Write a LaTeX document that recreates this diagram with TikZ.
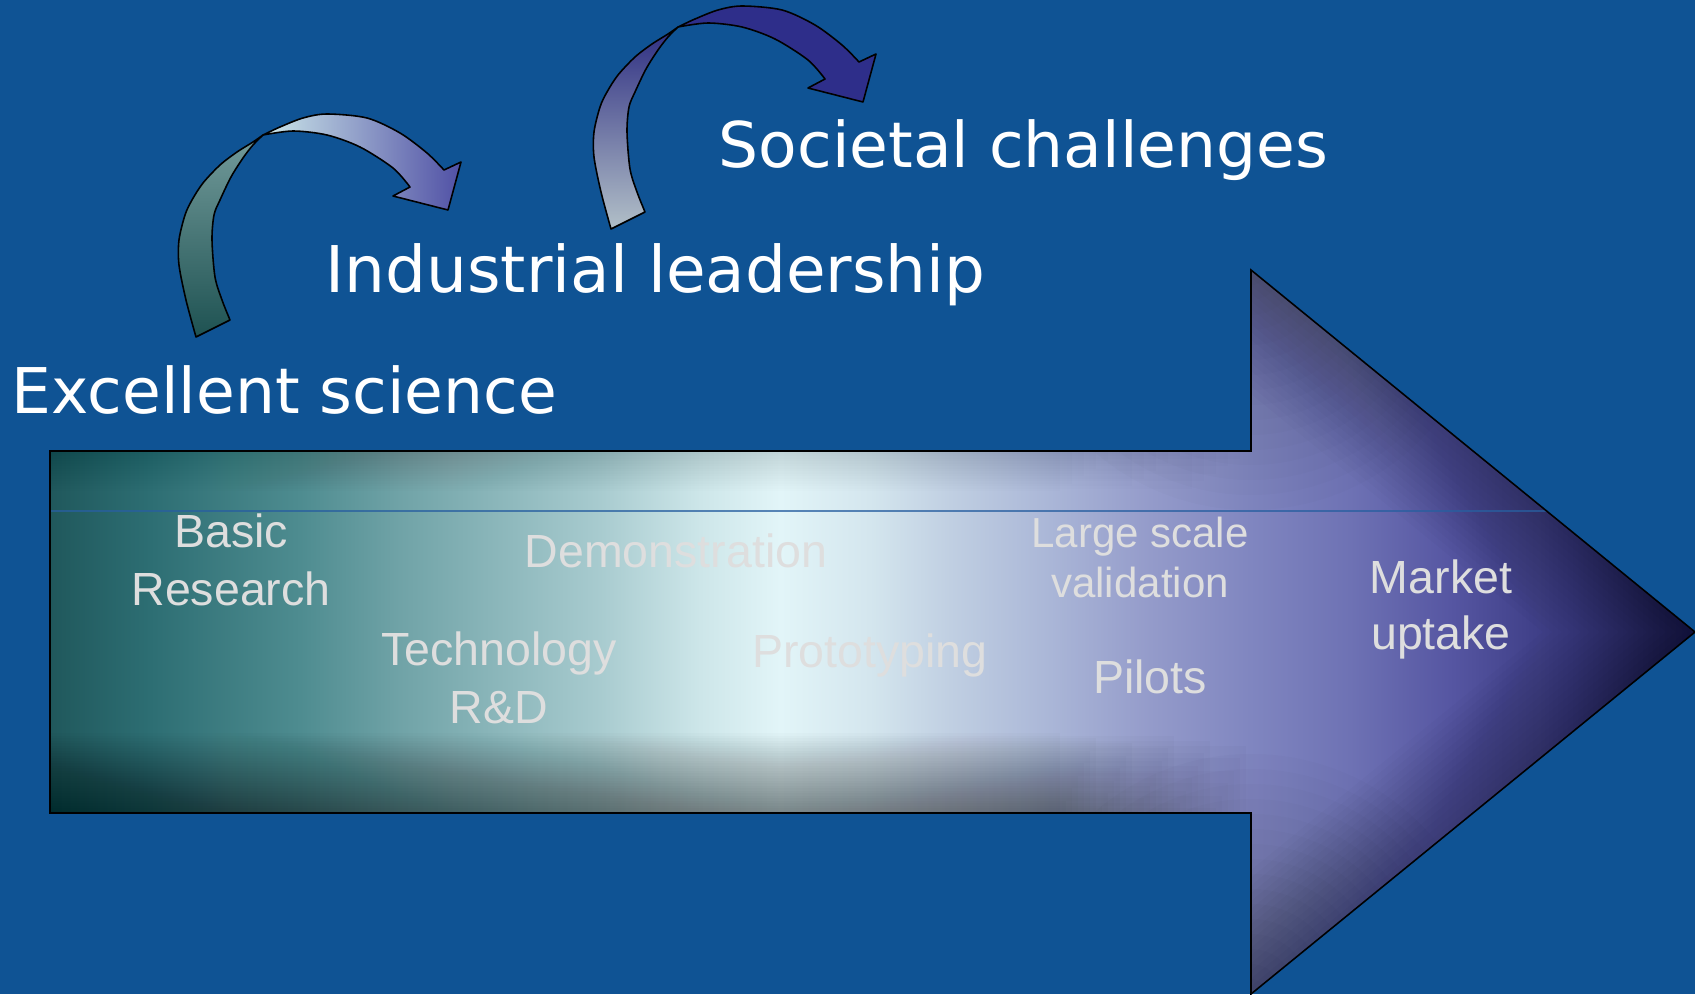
\documentclass[tikz,border=0pt]{standalone}
\usepackage{fontspec}
\newfontfamily\titlefont{DejaVu Sans}
\newfontfamily\labelfont{Liberation Sans}

% page and text colours
\definecolor{bgblue}{RGB}{15,83,148}
\definecolor{labgrey}{RGB}{222,222,222}
\definecolor{rowline}{RGB}{40,95,160}

% stops of the left-to-right fill of the large arrow
\definecolor{sa}{RGB}{32,88,92}
\definecolor{sb}{RGB}{45,110,115}
\definecolor{sc}{RGB}{78,140,144}
\definecolor{sd}{RGB}{112,163,167}
\definecolor{se}{RGB}{168,203,207}
\definecolor{sf}{RGB}{205,230,233}
\definecolor{sg}{RGB}{226,245,248}
\definecolor{sh}{RGB}{212,230,238}
\definecolor{si}{RGB}{192,207,226}
\definecolor{sj}{RGB}{170,182,215}
\definecolor{sk}{RGB}{148,155,202}
\definecolor{sl}{RGB}{128,134,192}
\definecolor{sm}{RGB}{110,114,180}
\definecolor{sn}{RGB}{86,86,162}
\definecolor{so}{RGB}{60,60,132}
\definecolor{sp}{RGB}{40,40,98}
\definecolor{sq}{RGB}{32,32,86}

\pgfdeclarehorizontalshading{flowshade}{100bp}{%
  color(0bp)=(sa); color(25bp)=(sa); color(28.04bp)=(sb); color(32.6bp)=(sc);
  color(35.64bp)=(sd); color(41.72bp)=(se); color(44.76bp)=(sf); color(47.19bp)=(sg);
  color(49.92bp)=(sh); color(52.36bp)=(si); color(55.4bp)=(sj); color(58.43bp)=(sk);
  color(61.47bp)=(sl); color(64.51bp)=(sm); color(67.55bp)=(sn); color(70.59bp)=(so);
  color(73.63bp)=(sp); color(75bp)=(sq); color(100bp)=(sq)}

% arrow colours
\definecolor{aonebot}{RGB}{30,82,82}
\definecolor{aonetop}{RGB}{115,155,155}
\definecolor{aoneleft}{RGB}{205,232,234}
\definecolor{aonemid}{RGB}{232,247,247}
\definecolor{aoneright}{RGB}{80,80,165}
\definecolor{atwobot}{RGB}{178,192,200}
\definecolor{atwotop}{RGB}{45,45,130}
\definecolor{atwofront}{RGB}{46,46,138}

% curved ribbon arrow: #1 shift, #2/#3 back part bottom/top, #4/#5/#6 front part left/middle/right
\newcommand\bendarrow[6]{%
  \begin{scope}[shift={#1}]
    \shade[bottom color=#2, top color=#3, draw=black, line width=0.45pt, line join=round]
      plot[smooth, tension=0.5] coordinates {(196,337) (186,300) (179,265) (179,240) (185,215)
        (192,200) (203,183) (220,165) (237,152) (253,142) (263,135)}
      -- plot[smooth, tension=0.5] coordinates {(263,135) (253,145) (243,158) (231,177)
        (220,200) (214,215) (212,240) (215,277) (222,300) (230,320)}
      -- cycle;
    \shade[left color=#4, middle color=#5, right color=#6, draw=black, line width=0.45pt, line join=round]
      plot[smooth, tension=0.5] coordinates {(263,135) (280,127) (303,118) (327,114) (367,118)
        (400,133) (427,153) (444,170)}
      -- (461,162) -- (448,210) -- (393,196) -- (410,187)
      -- plot[smooth, tension=0.5] coordinates {(410,187) (393,168) (360,147) (327,135)
        (293,131) (263,135)}
      -- cycle;
  \end{scope}}

\begin{document}
\begin{tikzpicture}[x=0.01cm, y=-0.01cm,
  title/.style={font=\titlefont\fontsize{17.93pt}{21pt}\selectfont, text=white,
    inner sep=0pt, anchor=base west},
  lab/.style={font=\labelfont\fontsize{13.23pt}{16pt}\selectfont, text=labgrey,
    inner sep=0pt, anchor=base},
  labsmall/.style={lab, font=\labelfont\fontsize{11.95pt}{14pt}\selectfont},
  bigoutline/.style={draw=black, line width=0.45pt, line join=miter}]

% page
\fill[bgblue] (0,0) rectangle (1695,994);
\useasboundingbox (0,0) rectangle (1695,994);

% large arrow fill
\def\bigarrow{(50,451) -- (1251,451) -- (1251,270) -- (1695,632) -- (1251,994) -- (1251,813) -- (50,813) -- cycle}
\shade[shading=flowshade] \bigarrow;

% darker rims inside the large arrow (many faint layers)
\begin{scope}
  \clip \bigarrow;
  % lower rim of the shaft; the layers stop at scattered points before the head
  \foreach \i in {1,...,32} {
    \pgfmathtruncatemacro\p{mod(\i*13,32)}
    \fill[black, opacity=0.0151] (50,{813-2.5*\i}) rectangle ({1060+6*\p},813);
  }
  % upper rim of the shaft
  \foreach \i in {1,...,16} {
    \pgfmathtruncatemacro\p{mod(\i*5,16)}
    \fill[black, opacity=0.009] (50,451) rectangle ({1060+12*\p},{451+2.5*\i});
  }
  % rims along the slanted sides of the head
  \foreach \h in {6,12,...,96} {
    \pgfmathsetmacro\lw{\h*0.569}
    \draw[black, opacity=0.016, line width=\lw pt, line join=round]
      (1251,270) -- (1695,632) -- (1251,994);
  }
  % shadows in the two back corners of the head
  \foreach \r in {15,30,...,240} {
    \fill[black, opacity=0.011] (1251,270) circle[radius=\r];
    \fill[black, opacity=0.014] (1251,994) circle[radius=\r];
  }
\end{scope}

% thin rule across the arrow
\coordinate (rowL) at (50,511);
\coordinate (rowR) at (1547,511);
\draw[rowline, opacity=0.75, line width=0.3pt] (rowL) -- (rowR);

\draw[bigoutline] \bigarrow;

% curved arrows
\bendarrow{(0,0)}{aonebot}{aonetop}{aoneleft}{aonemid}{aoneright}
\bendarrow{(415,-108)}{atwobot}{atwotop}{atwofront}{atwofront}{atwofront}

% headings
\node[title] (excellent) at (11,413) {Excellent science};
\node[title, font=\titlefont\fontsize{18.32pt}{21pt}\selectfont] (industrial) at (325,292) {Industrial leadership};
\node[title] (societal) at (718,168) {Societal challenges};

% stages along the arrow
\node[lab] (basic) at (231,547) {Basic};
\node[lab] (research) at (231,605) {Research};
\node[lab] (demo) at (676,567) {Demonstration};
\node[lab] (techno) at (499,665) {Technology};
\node[lab] (rnd) at (499,723) {R\&D};
\node[lab] (proto) at (870,667) {Prototyping};
\node[labsmall] (large) at (1140,547) {Large scale};
\node[labsmall] (valid) at (1140,597) {validation};
\node[lab] (pilots) at (1150,693) {Pilots};
\node[lab] (market) at (1441,593) {Market};
\node[lab] (uptake) at (1441,649) {uptake};

\end{tikzpicture}
\end{document}
